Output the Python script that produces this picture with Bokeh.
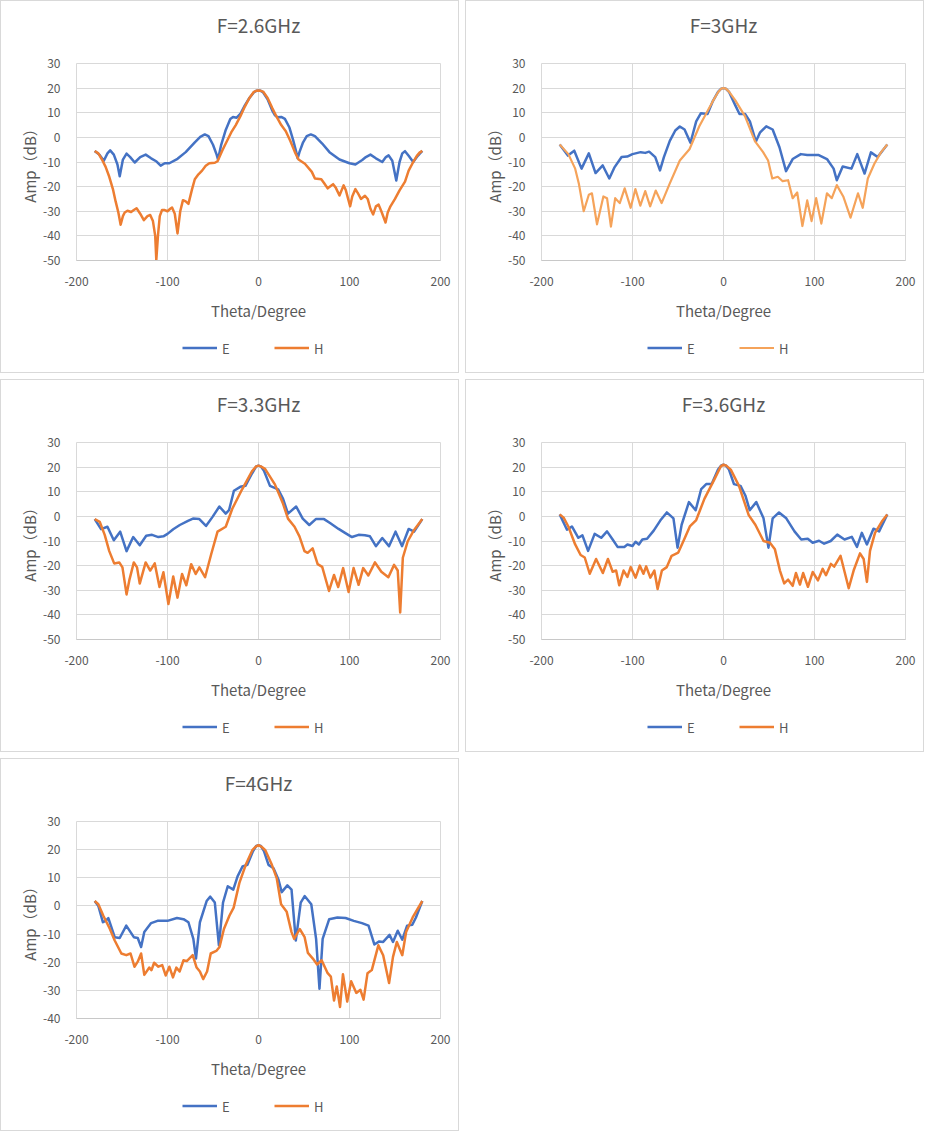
from bokeh.plotting import figure
from bokeh.models import Range1d, FixedTicker, Legend, LegendItem, PrintfTickFormatter, Title
from bokeh.layouts import column, row
from bokeh.embed import file_html
from bokeh.resources import INLINE

# ---------------- data ----------------
titles = ["F=2.6GHz", "F=3GHz", "F=3.3GHz", "F=3.6GHz", "F=4GHz"]
x_ticks = [-200, -100, 0, 100, 200]

# F = 2.6 GHz
theta_E_26 = [-180,-175,-170,-166,-163,-159,-155,-152.5,-149,-145,-141,-136,-130,-124,-118,-112,-107.5,-103,-98,-89,-80,-70,-64,-59,-55,-50,-46,-44.5,-41,-36,-31,-28,-24,-20,-15,-10,-5,-2.5,0,2.5,5,10,15,18,21,25,29,34,38,41.5,43,45,49,53,57.5,62,66,70,78,89,100,106.5,114,118,123,129,136,140,143,147,151.4,155,158,161,165,170,175,180]
amp_E_26 = [-5.5,-7,-9.5,-6.5,-5.3,-7,-11,-15.8,-9,-6.6,-8,-10.2,-8,-7,-8.5,-9.8,-11.5,-10.5,-10.5,-8.7,-6,-2,0.2,1.2,0.5,-3,-7,-9,-3,3,7.5,8.3,8,9.5,13,16,18.3,18.9,19,18.9,18.3,15.5,11,9,8.2,8.3,7.5,4,-1,-6,-8.5,-6,-2,0.5,1.2,0.5,-1,-2.5,-6,-9,-10.5,-11,-9.2,-8,-7,-8.5,-10,-8,-7.3,-9.5,-17.5,-10,-6.5,-5.6,-7.5,-10,-7.5,-5.5]
theta_H_26 = [-180,-176,-172,-168,-164,-160,-157,-154,-151.5,-149,-147,-144,-140,-137,-134,-130,-126,-122,-119,-116,-113.5,-112.3,-110.5,-108.5,-106,-103,-100,-97,-95,-92,-89,-86,-83,-80,-77,-73,-70,-66,-62,-58,-54,-48,-45,-40,-36,-30,-25,-20,-15,-10,-5,-2.5,0,2.5,5,10,15,20,25,30,35,40,44,51,58.6,62,69,72,76,82,85,89,93.5,96,98.5,100.7,103,106.5,109,112.6,117,120,123,126,129,132,135,139.6,142,145,150,155,161,165,169,174,177,180]
amp_H_26 = [-5.5,-6.5,-9,-12,-16,-21,-26,-30.5,-35.5,-32,-30.5,-29.8,-30.3,-29.5,-28.8,-31,-33.6,-32,-31.5,-34,-40,-49.8,-40,-32,-29.5,-29.5,-30,-29,-28.5,-31,-39,-30,-25.5,-26,-27,-21,-17,-15,-13.5,-11.5,-10.5,-10.3,-9.7,-5.5,-2.5,2,5,8.5,12.5,16,18.5,18.9,19,18.9,18.6,16,12,8.3,5,2.5,-1.5,-6,-9,-10.7,-14,-16.7,-17,-18.5,-20.7,-19,-20.5,-23.6,-19.5,-21.5,-25,-28,-24,-21,-22.5,-25,-23.7,-25,-29,-31.3,-28,-27.3,-30,-34.6,-30.5,-28,-25,-21.5,-18,-13.5,-10.7,-7.5,-6.2,-5.5]

# F = 3 GHz
theta_E_30 = [-180,-171,-164,-156,-148,-140.6,-132.7,-125.5,-120,-112,-105.8,-100,-91,-86,-81.7,-75,-69.8,-65.5,-59,-53,-48,-42.8,-36.3,-30,-24.8,-17.6,-12,-6,-2.5,0,2.5,6,13,17.6,23.7,29,35.6,40,47,54,61.5,68.7,76,85,92,99,104.7,113.7,121,124.5,131,140.6,147,155,162,169.4,180]
amp_E_30 = [-2.9,-7.4,-5.4,-12.7,-6.5,-14.5,-11.4,-16.7,-12.3,-8,-7.8,-6.8,-6,-6.3,-5.8,-8,-13.4,-8,-1.4,2.8,4.4,3.2,-2.2,6.5,9.8,9.5,14.5,18.5,19.8,20,19.8,18.5,13,9.5,9.5,6.5,-1.7,1.9,4.5,3.2,-4,-13.7,-8.8,-6.8,-7.2,-7.2,-7.2,-8.8,-12.7,-17.4,-11.8,-12.7,-6.8,-14.7,-6.1,-8,-2.9]
theta_H_30 = [-180,-170.5,-163,-159,-153.6,-148,-144.6,-139,-132,-128,-123.7,-119,-114,-108.6,-102,-96.8,-91.4,-86,-80.6,-74.5,-68,-59,-48,-37.4,-26.6,-12,-6,-2.5,0,2.5,6,13,23.7,34.5,43.5,49,53.6,59.7,65,71,76,81,86.7,92,96.8,101.8,107.5,113.7,119,124.5,131.6,139.6,147.8,153,158.6,165.8,173,180]
amp_H_30 = [-2.9,-6.8,-12.7,-18.7,-30,-23.3,-22.7,-35.3,-24,-24.7,-36.2,-24.7,-26.7,-20.7,-28.6,-21,-27.7,-21.8,-28,-21.6,-26.7,-18.7,-9.4,-4.8,4.5,14.5,18.3,19.8,20,19.8,18.6,15,8.5,-1.5,-6,-9.4,-16.7,-16,-17.8,-17.4,-24.7,-22.4,-36,-25.6,-34,-24.7,-35,-22.7,-24.7,-19.4,-24,-32.6,-22.7,-28.6,-16.7,-10.7,-6.1,-2.9]

# F = 3.3 GHz
theta_E_33 = [-180,-173,-166,-159,-152,-145,-137.7,-130.5,-123.4,-117,-110,-104.5,-100,-93.7,-86.5,-77.5,-72,-65,-57.7,-50.5,-43,-36,-32.4,-27,-20,-14.4,-7,-2.5,0,2.5,6,12.6,21.6,27,32.4,41.4,48.6,55.8,63,72,79,88,95.5,102.7,110,117,122.5,129,136,143.4,150.6,157.8,165,171,180]
amp_E_33 = [-1.1,-5.2,-4.2,-9.7,-6.2,-14.1,-8.4,-11.7,-7.9,-7.5,-8.4,-8.1,-7.1,-5.2,-3.5,-1.8,-0.9,-1.1,-3.9,-0.2,4,1.1,2.5,10.4,12,12.4,17.5,20.3,20.6,20.3,18.5,12.4,11,7.1,1.1,4,-0.9,-3.5,-1.1,-1.1,-2.8,-5.1,-6.8,-8.4,-7.5,-7.7,-8.1,-12.1,-8.8,-12.1,-6.2,-12.1,-5.1,-6.2,-1.1]
theta_H_33 = [-180,-174.5,-169,-164,-158.6,-153,-149.5,-145,-142,-137,-133.5,-130.5,-124,-119,-114,-108.8,-104.5,-99,-93.7,-89,-84,-79.3,-74,-69,-65,-58.7,-52,-45,-36,-28.8,-18,-7.2,-2.5,0,2.5,7.2,18,27,32.4,39.6,45,50.5,54,59.5,65,70,77.5,83,87.6,93,99,104.5,110,115,120.7,128,135,142.7,149,153,155.7,158.6,164,171,180]
amp_H_33 = [-1.1,-2.2,-7.5,-14.1,-19.1,-18.7,-20.7,-31.7,-26,-18.7,-20.7,-27.3,-18.7,-22,-19.1,-28.7,-22.7,-35.6,-24.4,-33,-23.4,-28,-19.4,-23.4,-20.7,-24.7,-15.4,-6.2,-4.2,3.1,11,18.3,20.3,20.6,20.3,19.3,13,5.1,-0.9,-4.2,-8.1,-14.1,-14.8,-13,-19.4,-20.5,-30.3,-23.8,-28.7,-21,-30.7,-21,-27.8,-21,-24,-18.7,-22.5,-24.7,-19.7,-22,-39,-16.8,-10.1,-5.5,-1.1]

# F = 3.6 GHz
theta_E_36 = [-180,-172,-166.6,-159.5,-155,-148.8,-141.6,-134.4,-128,-121.8,-116.4,-109,-105.6,-100,-96.6,-93,-89.2,-84,-76.7,-69.5,-62.3,-55,-50.5,-46,-38,-30.6,-24.5,-19,-13,-6,-2.5,0,2.5,6,11.5,18.7,24,28.8,36,44,49.4,54,61,69,78,85.4,92.6,98,105,110.6,117.8,125,133,141,146.7,152,157.6,164.8,171,180]
amp_E_36 = [0.8,-5.4,-4.1,-8.7,-7.7,-14,-7.1,-8.7,-6.1,-9.4,-12.4,-12.4,-11.4,-12,-10.3,-11.4,-9.4,-9.1,-5.8,-1.7,1.6,-0.8,-12.7,-3.4,5.8,2.5,11.1,13.1,13.1,19,20.7,21,20.7,19,13.1,12.4,8.5,2.5,5.8,-0.8,-12.7,-0.8,1.6,-0.8,-6.1,-9.4,-9.1,-10.7,-9.9,-11.1,-10,-7.4,-9.4,-8.3,-12.4,-6.7,-11.4,-5,-6.1,0.8]
theta_H_36 = [-180,-175.7,-170.5,-163,-157,-152.5,-147,-140,-132.6,-127,-121.8,-118,-114.6,-109.8,-105.6,-102,-96.6,-92,-88,-85,-80.4,-76,-72.4,-67.7,-62.3,-57,-49.7,-44,-37,-30,-21,-10,-3,0,3,8,17,27.7,35,44,51,56.5,62,66.7,71,76,79.6,84,87.5,92.8,98,103.8,109,112.6,118,121.6,128.6,137.6,143,150,154,157.6,161,166.5,174,180]
amp_H_36 = [0.8,-0.5,-4.1,-11.4,-15.7,-16.7,-23.3,-17.3,-23,-17.3,-22.5,-22,-28,-22,-24.6,-20.6,-24.9,-20,-23.3,-20.3,-24.9,-22,-29.5,-22,-20.6,-16,-14.7,-10,-4.1,-1.5,7.1,15,20.3,21,20.6,19,12.4,0.5,-3.4,-10,-10.7,-13.4,-22,-27.2,-25.7,-28.2,-23,-27.7,-23,-28.6,-22.6,-26,-21.3,-23.9,-19.3,-20.4,-16,-29.2,-22,-15,-17.3,-26.6,-14,-6.7,-2.1,0.8]

# F = 4 GHz
theta_E_40 = [-180,-176,-171,-168,-165,-158,-152.5,-145.3,-137,-132.7,-129,-125.5,-118,-111,-100,-89.6,-82.4,-77,-71.6,-68.7,-64.4,-57,-53,-48,-43.5,-39,-33.8,-27.7,-23,-17.6,-12.2,-6,-2.5,0,2.5,6,11,16.5,22,25.5,31.7,36.3,41,46.4,50.7,58,63.3,67,70.5,77.7,86.7,95.7,104.7,113.7,120.9,127.3,132.7,137,144,147.8,153,158,163.3,169,173,180]
amp_E_40 = [1.75,0,-5.8,-5.3,-4.3,-11.1,-11.4,-7,-11.1,-11.4,-14.6,-9.3,-6.1,-5.3,-5.3,-4.3,-4.7,-5.8,-11.7,-18.7,-5.8,1.75,3.3,1.2,-14,1.2,7,5.8,10.5,14,14.6,19.5,21.3,21.6,21.3,19.5,14.6,13.4,9.3,4.9,7.3,5.8,-12.3,1.2,3.5,0.6,-11.7,-29.4,-11.7,-4.7,-4.1,-4.3,-5.3,-6.1,-7,-13.7,-12.6,-12.8,-10.3,-12.8,-8.8,-12,-7,-6.7,-4.1,1.75]
theta_H_40 = [-180,-176,-170.5,-163.3,-158,-150.7,-145.3,-140.6,-136.3,-132.7,-129,-125.5,-120,-117.6,-114.7,-110,-105.8,-102,-98,-94,-90.3,-86.7,-82.4,-78.8,-72.3,-68,-64.4,-60.8,-56.5,-52.5,-46.4,-42.8,-38,-32,-27.3,-21,-14,-6.8,-3,0,3,7.5,14.7,20,24.8,31,36.3,39.2,45.3,50.7,54.3,59.7,64.4,69.4,76,79.5,83,86,89.6,92.8,97.5,101.8,107.5,112,115.5,119.8,124.5,131.7,137,143.5,147.8,152,158,162.2,169.4,180]
amp_H_40 = [1.75,0.6,-3.5,-8.2,-12.3,-16.9,-17.5,-16.9,-21.6,-19.8,-16.9,-24.5,-21.9,-22.8,-20.2,-21.6,-21,-24.7,-21.6,-25.4,-21.9,-23.3,-19.3,-19.6,-17.5,-21.9,-23.3,-26,-23.3,-16.9,-16,-14.6,-8.2,-3.5,-0.6,8.2,14.6,19.8,21.1,21.6,21.1,19.8,14.6,9.9,0.6,-2.1,-9.3,-11.7,-8.2,-11.1,-16.7,-18.7,-20.8,-19.3,-23.9,-25.1,-33.6,-28.6,-35.9,-24.3,-34,-26.8,-30.9,-29.8,-33.3,-23.9,-22.8,-14,-17.5,-27.4,-18.1,-12.8,-17.5,-9.3,-4.1,1.75]

y_mins = [-50, -50, -50, -50, -40]

# ---------------- styling ----------------
FONT = "Noto Sans CJK SC"
TEXT = "#595959"
GRID = "#D9D9D9"
BLUE = "#4472C4"
ORANGE = "#ED7D31"
ORANGE_LIGHT = "#F5A35A"

W = 457          # inner width of a panel
H_PLOT = 322     # chart part
H_LEG = 49       # legend strip
LEFT, RIGHT = 75, 18


def make_panel(title, tE, aE, tH, aH, ymin, h_color=ORANGE, h_width=2.5):
    assert len(tE) == len(aE) and len(tH) == len(aH)
    p = figure(width=W, height=H_PLOT, output_backend="svg", toolbar_location=None,
               x_range=Range1d(-200, 200), y_range=Range1d(ymin, 30),
               min_border_left=LEFT, min_border_right=RIGHT,
               min_border_top=62, min_border_bottom=56,
               title=None, background_fill_color="white",
               border_fill_color="white", outline_line_color=GRID)
    # spacer between title and plot area, then the real title
    p.add_layout(Title(text=" ", text_font_size="8px"), "above")
    p.add_layout(Title(text=title, align="center", text_font=FONT,
                       text_font_size="19px", text_font_style="normal",
                       text_color=TEXT), "above")

    p.xaxis.ticker = FixedTicker(ticks=x_ticks)
    p.yaxis.ticker = FixedTicker(ticks=list(range(ymin, 31, 10)))
    for ax in (p.xaxis, p.yaxis):
        ax.formatter = PrintfTickFormatter(format="%d")
        ax.major_tick_line_color = None
        ax.minor_tick_line_color = None
        ax.major_label_text_font = FONT
        ax.major_label_text_font_size = "12px"
        ax.major_label_text_color = TEXT
        ax.axis_label_text_font = FONT
        ax.axis_label_text_font_size = "15px"
        ax.axis_label_text_font_style = "normal"
        ax.axis_label_text_color = TEXT
    p.xaxis.axis_line_color = "#C8C8C8"
    p.yaxis.axis_line_color = None
    p.xaxis.axis_label = "Theta/Degree"
    p.yaxis.axis_label = "Amp（dB）"
    p.xaxis.major_label_standoff = 10
    p.xaxis.axis_label_standoff = 11
    p.yaxis.major_label_standoff = 10
    p.yaxis.axis_label_standoff = 0

    p.xgrid.grid_line_color = GRID
    p.ygrid.grid_line_color = GRID

    p.line(tE, aE, line_color=BLUE, line_width=2.5, line_join="round")
    p.line(tH, aH, line_color=h_color, line_width=h_width, line_join="round")

    # legend strip below the chart (its series lie outside its own view)
    lg = figure(width=W, height=H_LEG, output_backend="svg", toolbar_location=None,
                x_range=Range1d(1000, 1001), y_range=Range1d(1000, 1001),
                x_axis_location=None, y_axis_location=None,
                min_border_left=LEFT, min_border_right=RIGHT,
                min_border_top=0, min_border_bottom=0, outline_line_color=None,
                title=None,
                background_fill_color="white", border_fill_color="white")
    lg.xgrid.visible = False
    lg.ygrid.visible = False
    kE = lg.line(tE, aE, line_color=BLUE, line_width=2.5)
    kH = lg.line(tH, aH, line_color=h_color, line_width=h_width)
    legend = Legend(items=[LegendItem(label="E", renderers=[kE]),
                           LegendItem(label="H", renderers=[kH])],
                    orientation="horizontal", location="center",
                    border_line_color=None, background_fill_alpha=0,
                    label_text_font=FONT, label_text_font_size="13px",
                    label_text_color=TEXT, glyph_width=35, glyph_height=14,
                    spacing=32, label_standoff=5, margin=0, padding=2)
    lg.add_layout(legend, "center")

    return column(p, lg, spacing=0, styles={"border": "1px solid #D9D9D9"})


c1 = make_panel(titles[0], theta_E_26, amp_E_26, theta_H_26, amp_H_26, y_mins[0])
c2 = make_panel(titles[1], theta_E_30, amp_E_30, theta_H_30, amp_H_30, y_mins[1],
                h_color=ORANGE_LIGHT, h_width=2.2)
c3 = make_panel(titles[2], theta_E_33, amp_E_33, theta_H_33, amp_H_33, y_mins[2])
c4 = make_panel(titles[3], theta_E_36, amp_E_36, theta_H_36, amp_H_36, y_mins[3])
c5 = make_panel(titles[4], theta_E_40, amp_E_40, theta_H_40, amp_H_40, y_mins[4])

page = column(row(c1, c2, spacing=6), row(c3, c4, spacing=6), row(c5), spacing=6)

open("out.html", "w").write(file_html(page, INLINE, title="Radiation patterns"))
